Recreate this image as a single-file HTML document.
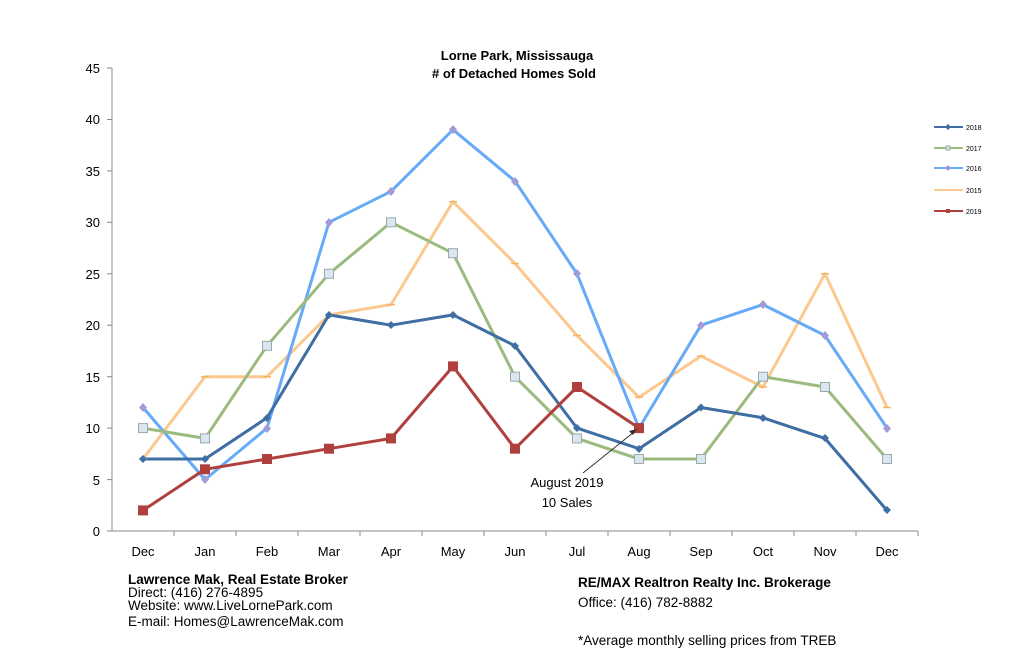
<!DOCTYPE html>
<html><head><meta charset="utf-8"><style>
body{margin:0;background:#fff;}
svg text{font-family:"Liberation Sans",sans-serif;}
</style></head><body>
<svg width="1024" height="657" viewBox="0 0 1024 657" xmlns="http://www.w3.org/2000/svg">
<rect width="1024" height="657" fill="#fff"/>
<text x="517" y="60" font-size="13" font-weight="bold" text-anchor="middle">Lorne Park, Mississauga</text>
<text x="514" y="78" font-size="13" font-weight="bold" text-anchor="middle"># of Detached Homes Sold</text>
<g stroke="#888" stroke-width="1">
<line x1="112" y1="68" x2="112" y2="531"/>
<line x1="112" y1="531" x2="918" y2="531"/>
<line x1="107" y1="68" x2="112" y2="68"/><line x1="107" y1="119.5" x2="112" y2="119.5"/><line x1="107" y1="170.9" x2="112" y2="170.9"/><line x1="107" y1="222.3" x2="112" y2="222.3"/><line x1="107" y1="273.8" x2="112" y2="273.8"/><line x1="107" y1="325.2" x2="112" y2="325.2"/><line x1="107" y1="376.7" x2="112" y2="376.7"/><line x1="107" y1="428.1" x2="112" y2="428.1"/><line x1="107" y1="479.6" x2="112" y2="479.6"/><line x1="107" y1="531" x2="112" y2="531"/>
<line x1="174" y1="531" x2="174" y2="536"/><line x1="236" y1="531" x2="236" y2="536"/><line x1="298" y1="531" x2="298" y2="536"/><line x1="360" y1="531" x2="360" y2="536"/><line x1="422" y1="531" x2="422" y2="536"/><line x1="484" y1="531" x2="484" y2="536"/><line x1="546" y1="531" x2="546" y2="536"/><line x1="608" y1="531" x2="608" y2="536"/><line x1="670" y1="531" x2="670" y2="536"/><line x1="732" y1="531" x2="732" y2="536"/><line x1="794" y1="531" x2="794" y2="536"/><line x1="856" y1="531" x2="856" y2="536"/><line x1="918" y1="531" x2="918" y2="536"/>
</g>
<g font-size="13" text-anchor="end" fill="#000">
<text x="100" y="73">45</text><text x="100" y="124">40</text><text x="100" y="176">35</text><text x="100" y="227">30</text><text x="100" y="279">25</text><text x="100" y="330">20</text><text x="100" y="382">15</text><text x="100" y="433">10</text><text x="100" y="485">5</text><text x="100" y="536">0</text>
</g>
<g font-size="13" text-anchor="middle">
<text x="143" y="556">Dec</text><text x="205" y="556">Jan</text><text x="267" y="556">Feb</text><text x="329" y="556">Mar</text><text x="391" y="556">Apr</text><text x="453" y="556">May</text><text x="515" y="556">Jun</text><text x="577" y="556">Jul</text><text x="639" y="556">Aug</text><text x="701" y="556">Sep</text><text x="763" y="556">Oct</text><text x="825" y="556">Nov</text><text x="887" y="556">Dec</text>
</g>
<g fill="none" stroke-width="3" stroke-linejoin="round">
<polyline stroke="#fbc98f" points="143,459 205,376.7 267,376.7 329,314.9 391,304.6 453,201.7 515,263.5 577,335.5 639,397.2 701,356.1 763,387 825,273.8 887,407.5"/>
<polyline stroke="#66aaf8" points="143,407.5 205,479.6 267,428.1 329,222.3 391,191.4 453,129.7 515,181.1 577,273.8 639,428.1 701,325.2 763,304.6 825,335.5 887,428.1"/>
<polyline stroke="#9bbb7e" points="143,428.1 205,438.4 267,345.8 329,273.8 391,222.3 453,253.2 515,376.7 577,438.4 639,459 701,459 763,376.7 825,387 887,459"/>
<polyline stroke="#3f6ea5" points="143,459 205,459 267,417.8 329,314.9 391,325.2 453,314.9 515,345.8 577,428.1 639,448.7 701,407.5 763,417.8 825,438.4 887,510.4"/>
<polyline stroke="#b0403e" points="143,510.4 205,469.3 267,459 329,448.7 391,438.4 453,366.4 515,448.7 577,387 639,428.1"/>
</g>
<g stroke="#f5b46a" stroke-width="1.5">
<path d="M139,459h8 M201,376.7h8 M263,376.7h8 M325,314.9h8 M387,304.6h8 M449,201.7h8 M511,263.5h8 M573,335.5h8 M635,397.2h8 M697,356.1h8 M759,387h8 M821,273.8h8 M883,407.5h8"/>
</g>
<g fill="#a39bd5">
<path d="M143,403l4,4.5l-4,4.5l-4,-4.5z M205,475l4,4.5l-4,4.5l-4,-4.5z M267,424l4,4.5l-4,4.5l-4,-4.5z M329,218l4,4.5l-4,4.5l-4,-4.5z M391,187l4,4.5l-4,4.5l-4,-4.5z M453,125l4,4.5l-4,4.5l-4,-4.5z M515,177l4,4.5l-4,4.5l-4,-4.5z M577,269l4,4.5l-4,4.5l-4,-4.5z M701,321l4,4.5l-4,4.5l-4,-4.5z M763,300l4,4.5l-4,4.5l-4,-4.5z M825,331l4,4.5l-4,4.5l-4,-4.5z M887,424l4,4.5l-4,4.5l-4,-4.5z"/>
</g>
<g fill="#dbe6f1" stroke="#9aa" stroke-width="1">
<rect x="138.5" y="423.6" width="9" height="9"/><rect x="200.5" y="433.9" width="9" height="9"/><rect x="262.5" y="341.3" width="9" height="9"/><rect x="324.5" y="269.3" width="9" height="9"/><rect x="386.5" y="217.8" width="9" height="9"/><rect x="448.5" y="248.7" width="9" height="9"/><rect x="510.5" y="372.2" width="9" height="9"/><rect x="572.5" y="433.9" width="9" height="9"/><rect x="634.5" y="454.5" width="9" height="9"/><rect x="696.5" y="454.5" width="9" height="9"/><rect x="758.5" y="372.2" width="9" height="9"/><rect x="820.5" y="382.5" width="9" height="9"/><rect x="882.5" y="454.5" width="9" height="9"/>
</g>
<g fill="#3f6ea5">
<path d="M143,455l4,4l-4,4l-4,-4z M205,455l4,4l-4,4l-4,-4z M267,414l4,4l-4,4l-4,-4z M329,311l4,4l-4,4l-4,-4z M391,321l4,4l-4,4l-4,-4z M453,311l4,4l-4,4l-4,-4z M515,342l4,4l-4,4l-4,-4z M577,424l4,4l-4,4l-4,-4z M639,445l4,4l-4,4l-4,-4z M701,403.5l4,4l-4,4l-4,-4z M763,414l4,4l-4,4l-4,-4z M825,434l4,4l-4,4l-4,-4z M887,506l4,4l-4,4l-4,-4z"/>
</g>
<g fill="#b0403e">
<rect x="138" y="505.4" width="10" height="10"/><rect x="200" y="464.3" width="10" height="10"/><rect x="262" y="454" width="10" height="10"/><rect x="324" y="443.7" width="10" height="10"/><rect x="386" y="433.4" width="10" height="10"/><rect x="448" y="361.4" width="10" height="10"/><rect x="510" y="443.7" width="10" height="10"/><rect x="572" y="382" width="10" height="10"/><rect x="634" y="423.1" width="10" height="10"/>
</g>
<line x1="583" y1="473" x2="634" y2="432" stroke="#333" stroke-width="1"/>
<path d="M637,429l-8,2l4,4z" fill="#333"/>
<text x="567" y="487" font-size="13" text-anchor="middle">August 2019</text>
<text x="567" y="507" font-size="13" text-anchor="middle">10 Sales</text>
<g stroke-width="2">
<line x1="934" y1="127" x2="963" y2="127" stroke="#3f6ea5"/><path d="M948,124l3,3l-3,3l-3,-3z" fill="#3f6ea5"/>
<line x1="934" y1="148" x2="963" y2="148" stroke="#9bbb7e"/><rect x="946" y="146" width="4" height="4" fill="#dbe6f1" stroke="#9aa" stroke-width="1"/>
<line x1="934" y1="168" x2="963" y2="168" stroke="#66aaf8"/><path d="M948,165l3,3l-3,3l-3,-3z" fill="#a39bd5"/>
<line x1="934" y1="190" x2="963" y2="190" stroke="#fbc98f"/>
<line x1="934" y1="211" x2="963" y2="211" stroke="#b0403e"/><rect x="946" y="209" width="4" height="4" fill="#b0403e"/>
</g>
<g font-size="7">
<text x="966" y="130">2018</text><text x="966" y="151">2017</text><text x="966" y="171">2016</text><text x="966" y="193">2015</text><text x="966" y="214">2019</text>
</g>
<g font-size="13.5">
<text x="128" y="584" font-weight="bold">Lawrence Mak, Real Estate Broker</text>
<text x="128" y="597">Direct:  (416) 276-4895</text>
<text x="128" y="610">Website:  www.LiveLornePark.com</text>
<text x="128" y="626">E-mail:  Homes@LawrenceMak.com</text>
<text x="578" y="587" font-weight="bold">RE/MAX Realtron Realty Inc. Brokerage</text>
<text x="578" y="607">Office: (416) 782-8882</text>
<text x="578" y="645">*Average monthly selling prices from TREB</text>
</g>
</svg>
</body></html>
